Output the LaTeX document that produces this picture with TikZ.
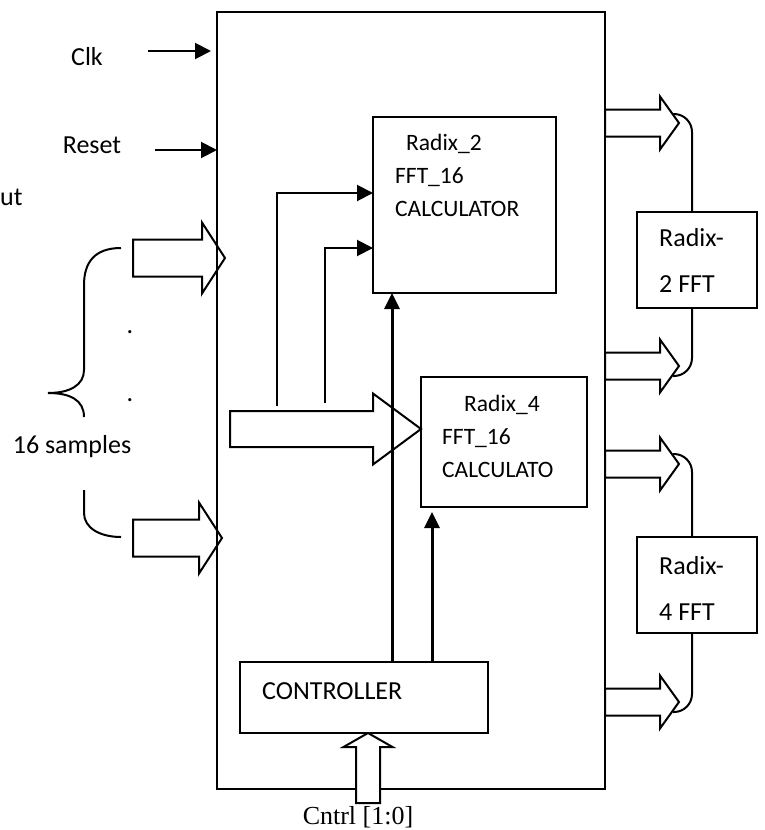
\documentclass[tikz,border=0pt]{standalone}
\usepackage{fontspec}
\setmainfont{Carlito}
\newfontfamily\serifrm{Liberation Serif}
\usetikzlibrary{arrows.meta,calc}

\tikzset{
  fat body/.store in=\fatbody, fat head/.store in=\fathead, fat len/.store in=\fatlen,
  fat body=18pt, fat head=35pt, fat len=22pt
}

\begin{document}
\begin{tikzpicture}[x=1pt,y=-1pt,
  box/.style={draw,line width=2pt,inner sep=0pt,outer sep=0pt},
  lbl/.style={inner sep=0pt,font=\fontsize{26}{30}\selectfont},
  calctxt/.style={inner sep=0pt,align=left,anchor=north west,font=\fontsize{23.5}{33}\selectfont},
  ffttxt/.style={inner sep=0pt,align=left,anchor=north west,font=\fontsize{26}{46}\selectfont},
  arr/.style={-{Triangle[length=16pt,width=16pt]},line width=2pt},
  arrb/.style={-{Triangle[length=16pt,width=15pt]},line width=3pt},
  lnk/.style={line width=2pt,rounded corners=18pt},
  fat/.style={line width=2pt,line join=miter,to path={
    ($(\tikztostart)!\fatbody!90:(\tikztotarget)$)
    -- ($(\tikztotarget)!\fatlen!(\tikztostart)!\fatbody!90:(\tikztotarget)$)
    -- ($(\tikztotarget)!\fatlen!(\tikztostart)!\fathead!90:(\tikztotarget)$)
    -- (\tikztotarget)
    -- ($(\tikztotarget)!\fatlen!(\tikztostart)!\fathead!-90:(\tikztotarget)$)
    -- ($(\tikztotarget)!\fatlen!(\tikztostart)!\fatbody!-90:(\tikztotarget)$)
    -- ($(\tikztostart)!\fatbody!-90:(\tikztotarget)$) -- cycle}}
]
  \useasboundingbox (0,0) rectangle (765,830);

  % blocks
  \node[box,minimum width=388pt,minimum height=777pt] (main) at (411,400.5) {};
  \node[box,minimum width=183pt,minimum height=176pt] (calcA) at (464.5,205) {};
  \node[box,minimum width=166pt,minimum height=130pt] (calcB) at (504,442) {};
  \node[box,minimum width=248pt,minimum height=71pt] (ctrl) at (364,697.5) {};
  \node[box,minimum width=120pt,minimum height=96pt] (fftA) at (697,260) {};
  \node[box,minimum width=120pt,minimum height=96pt] (fftB) at (697,585) {};

  \node[calctxt] (calcAtxt) at (395,134) {\hspace*{11pt}Radix\_2\\FFT\_16\\CALCULATOR};
  \node[calctxt] (calcBtxt) at (442,395) {\hspace*{22pt}Radix\_4\\FFT\_16\\CALCULATO};
  \node[lbl,anchor=west] (ctrltxt) at (262,691) {CONTROLLER};
  \node[ffttxt] (fftAtxt) at (659,228) {Radix-\\2 FFT};
  \node[ffttxt] (fftBtxt) at (659,556) {Radix-\\4 FFT};

  % inputs
  \node[lbl] (clk) at (87,57) {Clk};
  \node[lbl] (rst) at (92,145) {Reset};
  \node[lbl,anchor=west] (inp) at (0,197) {ut};
  \node[lbl] (smp) at (72,447) {16 samples};
  \node[lbl,anchor=base] (dotA) at (130,333) {.};
  \node[lbl,anchor=base] (dotB) at (130,401) {.};
  \node[lbl,font=\serifrm\fontsize{26}{30}\selectfont] (cntrl) at (358,817) {Cntrl [1:0]};

  \coordinate (clkS) at (148,51);
  \coordinate (rstS) at (155,150);
  \draw[arr] (clkS) -- ([xshift=-6pt]main.west |- clkS);
  \draw[arr] (rstS) -- (main.west |- rstS);

  % brace
  \draw[line width=2pt] (121,248) .. controls (95,248) and (84,262) .. (84,285) -- (84,370)
    .. controls (84,385) and (70,393) .. (48,393) .. controls (70,393) and (84,400) .. (84,417);
  \draw[line width=2pt] (84,490) -- (84,513) .. controls (84,528) and (100,537) .. (121,537);

  % wide buses
  \coordinate (inAs) at (133,258);  \coordinate (inAt) at (225,258);
  \coordinate (inBs) at (133,538);  \coordinate (inBt) at (222,538);
  \coordinate (midS) at (230,429);  \coordinate (midT) at (421,429);
  \draw[fat,fat body=18.5pt,fat head=35.5pt,fat len=23pt] (inAs) to (inAt);
  \draw[fat,fat body=18.5pt,fat head=35.5pt,fat len=23pt] (inBs) to (inBt);
  \draw[fat,fat body=18pt,fat head=35.5pt,fat len=48pt] (midS) to (midT);

  \coordinate (tapA) at (277,406);
  \coordinate (tapB) at (325,403);
  \draw[arr] (tapA) |- ($(calcA.north west)+(0,76)$);
  \draw[arr] (tapB) |- ($(calcA.north west)+(0,131)$);

  % controller
  \coordinate (cA) at ([xshift=152pt]ctrl.north west);
  \coordinate (cB) at ([xshift=192pt]ctrl.north west);
  \draw[arrb] (cA) -- (cA |- calcA.south);
  \draw[arrb,shorten >=5pt] (cB) -- (cB |- calcB.south);
  \coordinate (cntS) at (368,803);
  \coordinate (cntT) at (368,733);
  \draw[fat,fill=white,fat body=12pt,fat head=24.5pt,fat len=14pt] (cntS) to (cntT);

  % outputs
  \foreach \y [count=\i] in {123,366,464,702} {
    \coordinate (s\i) at (605,\y);
    \coordinate (o\i) at (679,\y);
    \draw[fat,fat body=13.5pt,fat head=26.5pt,fat len=19pt] (s\i) to (o\i);
  }
  \coordinate (a1) at (673,114);
  \coordinate (a2) at (673,376);
  \coordinate (a3) at (673,454);
  \coordinate (a4) at (673,712);
  \draw[lnk] (a1) -| ([xshift=-5pt]fftA.north);
  \draw[lnk] ([xshift=-5pt]fftA.south) |- (a2);
  \draw[lnk] (a3) -| ([xshift=-5pt]fftB.north);
  \draw[lnk] ([xshift=-5pt]fftB.south) |- (a4);
\end{tikzpicture}
\end{document}
